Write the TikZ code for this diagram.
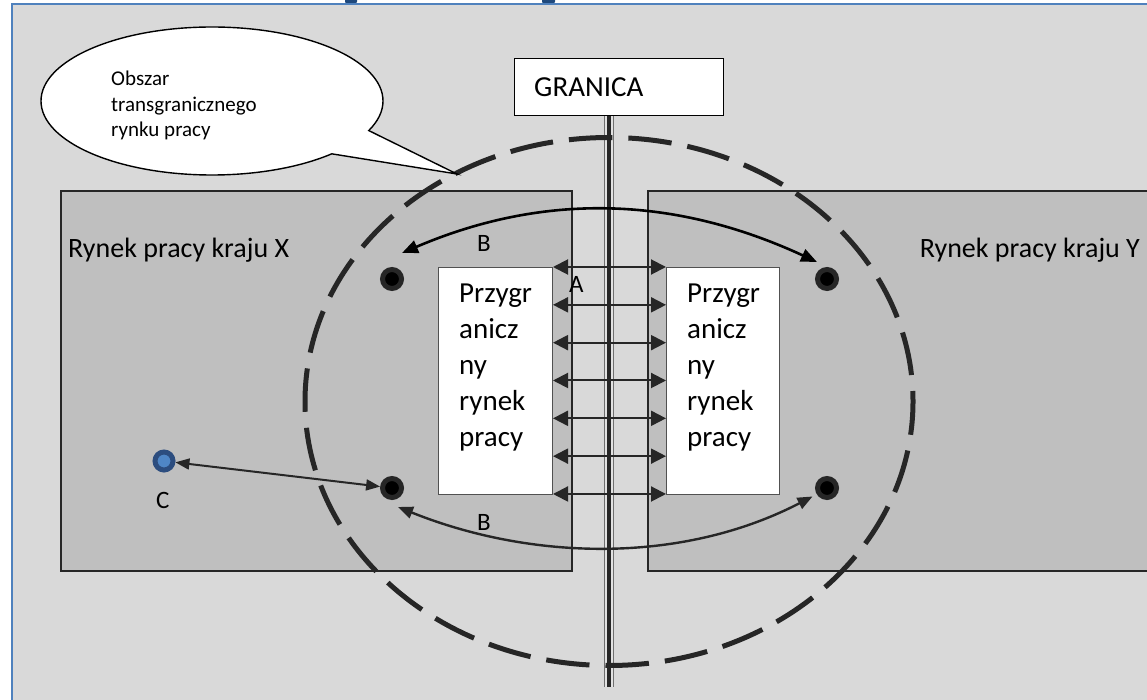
\documentclass[tikz,border=0pt]{standalone}
\usepackage{fontspec}
\setmainfont{Carlito}
\usetikzlibrary{arrows.meta,shapes.callouts,calc}

\definecolor{panel}{HTML}{D9D9D9}
\definecolor{marketgray}{HTML}{BFBFBF}
\definecolor{ink}{HTML}{262626}
\definecolor{frameblue}{HTML}{4F81BD}
\definecolor{titleblue}{HTML}{1F497D}
\definecolor{cring}{HTML}{2C4D7F}
\definecolor{cfill}{HTML}{4F86C6}
\definecolor{polegray}{HTML}{6F6F6F}
\definecolor{polelight}{HTML}{E2E2E2}

\begin{document}
\begin{tikzpicture}[x=1pt,y=-1pt,
  marketrect/.style={draw=ink, line width=1.6pt, fill=marketgray, inner sep=0pt, anchor=north west},
  zonebox/.style={draw=ink!80, line width=1pt, fill=white, inner sep=0pt, anchor=north west,
    minimum width=114pt, minimum height=227pt},
  boxtext/.style={font=\fontsize{29}{36}\selectfont, align=left, anchor=north west, inner sep=0pt},
  bigtext/.style={font=\fontsize{28}{34}\selectfont, inner sep=0pt},
  lbl/.style={font=\fontsize{25}{30}\selectfont, inner sep=0pt, anchor=base west},
  mdot/.style={circle, draw=ink, line width=5pt, fill=black, minimum size=19pt, inner sep=0pt},
  cdot/.style={circle, draw=cring, line width=5pt, fill=cfill, minimum size=18pt, inner sep=0pt},
  striparrow/.style={draw=ink, line width=2pt,
    {Triangle[length=15pt,width=15pt]}-{Triangle[length=15pt,width=15pt]}},
  toparrow/.style={draw=black, line width=2.6pt,
    {Triangle[length=16pt,width=13pt]}-{Triangle[length=16pt,width=13pt]}},
  lowarrow/.style={draw=ink, line width=2.4pt,
    {Triangle[length=15pt,width=12pt]}-{Triangle[length=15pt,width=12pt]}},
  carrow/.style={draw=ink, line width=2pt,
    {Triangle[length=14pt,width=11pt]}-{Triangle[length=14pt,width=11pt]}},
  zoneline/.style={draw=ink, line width=5pt, dash pattern=on 43.5pt off 16.05pt, dash phase=33pt},
]
\useasboundingbox (0,0) rectangle (1147,700);
\clip (0,0) rectangle (1147,700);

% page panel and its frame
\fill[white] (0,0) rectangle (1147,700);
\fill[panel] (12,4) rectangle (1150,700);
\fill[titleblue, rounded corners=2pt] (345,-4) rectangle (357,3.5);
\fill[titleblue, rounded corners=2pt] (542,-4) rectangle (555,3.5);
\draw[frameblue, line width=2pt] (12,702) -- (12,4) -- (1150,4);

% the two national labour markets
\node[marketrect, minimum width=511pt, minimum height=380pt] (mx) at (60,190) {};
\node[marketrect, minimum width=520pt, minimum height=380pt] (my) at (647,190) {};
\node[bigtext, anchor=base west] (mxtext) at (68,258) {Rynek pracy kraju X};
\node[bigtext, anchor=base east] (mytext) at (1140,258) {Rynek pracy kraju Y};

% border sign and border line
\node[draw=black, line width=1.3pt, fill=white, minimum width=209pt, minimum height=57pt,
      inner sep=0pt, anchor=north west] (granica) at (514,58) {};
\node[font=\fontsize{29}{35}\selectfont, inner sep=0pt, anchor=base west] (granicatext) at (534,97) {GRANICA};
\coordinate (poleend) at (609,687);
\coordinate (poletop) at (granica.south -| poleend);
\draw[polegray, line width=10.6pt] (poletop) -- (poleend);
\draw[polelight, line width=7.6pt] (poletop) -- (poleend);
\draw[ink, line width=4.4pt] (poletop) -- (poleend);

% border-zone markets
\node[zonebox] (lbox) at (438,267) {};
\node[zonebox, minimum width=113pt] (rbox) at (666,267) {};
\node[boxtext] (ltext) at (459,284) {Przygr\\anicz\\ny\\rynek\\pracy};
\node[boxtext] (rtext) at (687,284) {Przygr\\anicz\\ny\\rynek\\pracy};

% cross-border flows A
\foreach \k in {0,...,6}
  \draw[striparrow] ([yshift=-\k*37.83pt]lbox.north east) -- ([yshift=-\k*37.83pt]rbox.north west);
\node[lbl] (labA) at (569,293) {A};

% cross-border labour market area
\draw[zoneline] (609,401.5) ellipse [x radius=304pt, y radius=264pt];

% actors
\node[mdot] (lt) at (392,279) {};
\node[mdot] (lb) at (392,488) {};
\node[mdot] (rt) at (827,279) {};
\node[mdot] (rb) at (827,488) {};
\node[cdot] (c) at (164,461) {};

% flows B and C
\draw[toparrow] ([xshift=10pt,yshift=14pt]lt.north) .. controls (540,194) and (670,194) .. ([xshift=-10pt,yshift=5pt]rt.north);
\draw[lowarrow] ([xshift=6pt,yshift=-7pt]lb.south) .. controls (530,560) and (680,565) .. ([xshift=-6pt]rb.south west);
\draw[carrow] (c) -- (lb);
\node[lbl] (labB1) at (477,252) {B};
\node[lbl] (labB2) at (477,530) {B};
\node[lbl] (labC) at (156,508) {C};

% speech bubble
\coordinate (bubbletip) at (457,174);
\node[ellipse callout, draw=black, line width=1.4pt, fill=white, minimum width=342pt,
      minimum height=148pt, inner sep=0pt, callout absolute pointer={(bubbletip)},
      callout pointer arc=22] (bubble) at (212,101) {};
\node[font=\fontsize{21}{25.5}\selectfont, align=left, anchor=north west, inner sep=0pt]
      (bubbletext) at (111,71) {Obszar\\transgranicznego\\rynku pracy};
\end{tikzpicture}
\end{document}
